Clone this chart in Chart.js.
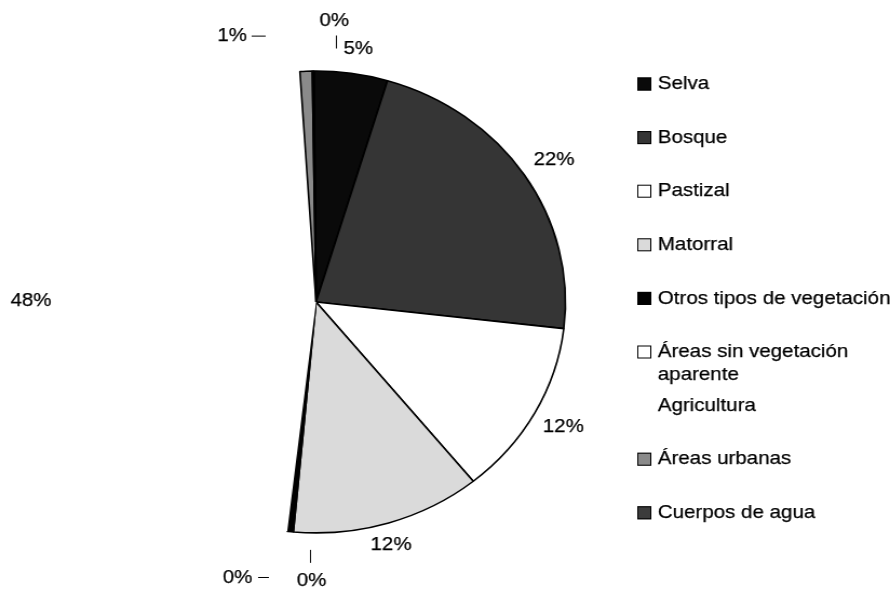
<!DOCTYPE html>
<html>
<head>
<meta charset="utf-8">
<script src="https://cdn.jsdelivr.net/npm/chart.js@4.4.1/dist/chart.umd.min.js"></script>
<style>
    html, body { margin: 0; padding: 0; background: #fff; overflow: hidden; }
    /* the scanned pie is wider than tall, so stretch the whole canvas a bit */
    #wrap { width: 824px; height: 592px; transform: scaleX(1.0801); transform-origin: 0 0; }
</style>
</head>
<body>
<div id="wrap"><canvas id="pieChart" width="824" height="592"></canvas></div>
<script>
const categories = ['Selva', 'Bosque', 'Pastizal', 'Matorral', 'Otros tipos de vegetación',
    'Áreas sin vegetación aparente', 'Agricultura', 'Áreas urbanas', 'Cuerpos de agua'];
const shares = [4.8, 22.4, 12.4, 12.4, 0.3, 0.1, 47.5, 0.8, 0.1];

const fills = ['#0a0a0a', '#353535', '#ffffff', '#dadada', '#000000', '#ffffff', '#ffffff', '#8a8a8a', '#3c3c3c'];
const edges = ['#000', '#000', '#000', '#000', '#000', '#000', 'rgba(0,0,0,0)', '#000', '#000'];
const edgeWidths = [1.6, 1.6, 1.6, 1.6, 1.6, 1.6, 0, 1.6, 1.6];

// label placement: angle nudge (deg) and distance beyond the rim
const labelNudge = [0.7, 0.6, -0.1, 1.0, -4.9, 8.3, -1.1, -14.0, 4.1];
const labelGap = [25, 31, 30, 22, 48, 54, 33, 46, 51];
const leaders = [null, null, null, null, [-1, -31, -1, -18], [19, 0, 29, 0], null, [18, 0, 31, 0], [2, 15, 2, 28]];

const FONT = '19px "Liberation Sans", Arial, sans-serif';

function inkText(ctx, text, x, y) {
    // scanned print looks a little heavier than plain canvas text
    ctx.fillText(text, x, y);
    ctx.strokeText(text, x, y);
}

const sliceLabels = {
    id: 'sliceLabels',
    afterDraw(chart) {
        const ctx = chart.ctx;
        const arcs = chart.getDatasetMeta(0).data;
        ctx.save();
        ctx.font = FONT;
        ctx.fillStyle = '#000';
        ctx.strokeStyle = '#000';
        ctx.textAlign = 'center';
        ctx.textBaseline = 'middle';
        arcs.forEach((arc, i) => {
            const p = arc.getProps(['x', 'y', 'startAngle', 'endAngle', 'outerRadius'], true);
            const mid = (p.startAngle + p.endAngle) / 2 + labelNudge[i] * Math.PI / 180;
            const r = p.outerRadius + labelGap[i];
            const lx = p.x + Math.cos(mid) * r;
            const ly = p.y + Math.sin(mid) * r;
            ctx.lineWidth = 0.25;
            inkText(ctx, Math.round(shares[i]) + '%', lx, ly);
            const l = leaders[i];
            if (l) {
                ctx.lineWidth = 1;
                ctx.beginPath();
                ctx.moveTo(lx + l[0], ly + l[1]);
                ctx.lineTo(lx + l[2], ly + l[3]);
                ctx.stroke();
            }
        });
        ctx.restore();
    },
};

const sideLegend = {
    id: 'sideLegend',
    afterDraw(chart) {
        const ctx = chart.ctx;
        const boxX = 590, textX = 609, top = 84, step = 53.6, box = 13;
        ctx.save();
        ctx.font = FONT;
        ctx.textAlign = 'left';
        ctx.textBaseline = 'middle';
        categories.forEach((name, i) => {
            const y = top + i * step;
            if (edgeWidths[i] > 0) {
                ctx.fillStyle = fills[i];
                ctx.fillRect(boxX, y - box / 2, box, box);
                ctx.strokeStyle = '#000';
                ctx.lineWidth = 1;
                ctx.strokeRect(boxX + 0.5, y - box / 2 + 0.5, box - 1, box - 1);
            }
            ctx.fillStyle = '#000';
            ctx.strokeStyle = '#000';
            ctx.lineWidth = 0.25;
            // simple word wrap
            const words = name.split(' ');
            let line = '', row = 0;
            words.forEach((w) => {
                const test = line ? line + ' ' + w : w;
                if (ctx.measureText(test).width > 218 && line) {
                    inkText(ctx, line, textX, y + row * 23);
                    line = w;
                    row++;
                } else {
                    line = test;
                }
            });
            inkText(ctx, line, textX, y + row * 23);
        });
        ctx.restore();
    },
};

new Chart(document.getElementById('pieChart'), {
    type: 'pie',
    data: {
        labels: categories,
        datasets: [{
            data: shares,
            backgroundColor: fills,
            borderColor: edges,
            borderWidth: edgeWidths,
        }],
    },
    options: {
        responsive: false,
        animation: false,
        rotation: -0.5,
        layout: { padding: { left: 60.8, right: 299.6, top: 70.2, bottom: 58.3 } },
        plugins: { legend: { display: false }, tooltip: { enabled: false } },
    },
    plugins: [sliceLabels, sideLegend],
});
</script>
</body>
</html>
